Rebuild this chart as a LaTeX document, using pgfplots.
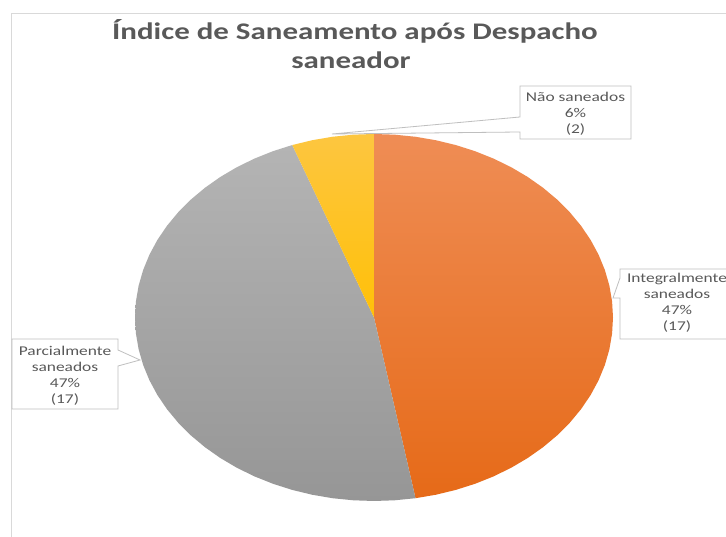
\documentclass[border=0pt]{standalone}
\usepackage{pgfplots}
\pgfplotsset{compat=1.18}
\usepackage{graphicx}
\usepackage{fontspec}
\setmainfont{Carlito}
\definecolor{txt}{RGB}{89,89,89}
\definecolor{frame}{RGB}{217,217,217}
\definecolor{callout}{RGB}{191,191,191}
\definecolor{orT}{RGB}{239,141,85}
\definecolor{orM}{RGB}{243,124,40}
\definecolor{orB}{RGB}{230,106,24}
\definecolor{grT}{RGB}{180,180,180}
\definecolor{grM}{RGB}{166,166,166}
\definecolor{grB}{RGB}{150,150,150}
\definecolor{yeT}{RGB}{253,198,64}
\definecolor{yeB}{RGB}{255,192,8}
% counts: Integralmente saneados 17, Parcialmente saneados 17, Nao saneados 2
% slices start at 90 deg and go clockwise; 17/36 -> 170 deg, 2/36 -> 20 deg
\newcommand{\lbl}[3]{\node[anchor=base,text=txt,inner sep=0pt] at (#1,#2) {\scalebox{1.3}[1]{\fontsize{13.4}{15}\selectfont #3}};}
\begin{document}
\begin{tikzpicture}
\clip (0,0) rectangle (726pt,537pt);
\fill[white] (0,0) rectangle (726pt,537pt);
\begin{axis}[
  at={(0,0)}, anchor=south west,
  width=726pt, height=537pt, scale only axis,
  xmin=-1.5649, xmax=1.4728, ymin=-1.1962, ymax=1.7302,
  hide axis, clip=false]
% Integralmente saneados (17)
\addplot[draw=none, data cs=polar, top color=orT, middle color=orM, bottom color=orB] coordinates {
(0,0) (90,1) (85,1) (80,1) (75,1) (70,1) (65,1) (60,1) (55,1) (50,1) (45,1) (40,1) (35,1) (30,1) (25,1) (20,1) (15,1) (10,1) (5,1) (0,1) (-5,1) (-10,1) (-15,1) (-20,1) (-25,1) (-30,1) (-35,1) (-40,1) (-45,1) (-50,1) (-55,1) (-60,1) (-65,1) (-70,1) (-75,1) (-80,1) (0,0)};
% Parcialmente saneados (17)
\addplot[draw=none, data cs=polar, top color=grT, middle color=grM, bottom color=grB] coordinates {
(0,0) (-80,1) (-85,1) (-90,1) (-95,1) (-100,1) (-105,1) (-110,1) (-115,1) (-120,1) (-125,1) (-130,1) (-135,1) (-140,1) (-145,1) (-150,1) (-155,1) (-160,1) (-165,1) (-170,1) (-175,1) (-180,1) (-185,1) (-190,1) (-195,1) (-200,1) (-205,1) (-210,1) (-215,1) (-220,1) (-225,1) (-230,1) (-235,1) (-240,1) (-245,1) (-250,1) (0,0)};
% Nao saneados (2)
\addplot[draw=none, data cs=polar, top color=yeT, bottom color=yeB] coordinates {
(0,0) (-250,1) (-255,1) (-260,1) (-265,1) (-270,1) (0,0)};
\end{axis}
\begin{scope}[x=1pt,y=-1pt,shift={(0pt,537pt)}]
% chart frame
\draw[frame, line width=1pt] (11,537) -- (11,14) -- (730,14);
% title
\node[anchor=base,text=txt,inner sep=0pt] at (355,40) {\scalebox{1.3}[1]{\fontsize{23.8}{28}\selectfont\bfseries Índice de Saneamento após Despacho}};
\node[anchor=base,text=txt,inner sep=0pt] at (351,69) {\scalebox{1.3}[1]{\fontsize{23.8}{28}\selectfont\bfseries saneador}};
% callouts
\draw[callout, fill=white, line width=0.8pt] (520,86) -- (631,86) -- (631,139) -- (520,139) -- (520,132) -- (332,134) -- (520,117) -- cycle;
\lbl{575.5}{102}{Não saneados}
\lbl{575.5}{118}{6\%}
\lbl{575.5}{134}{(2)}
\draw[callout, fill=white, line width=0.8pt] (620,278) -- (620,269) -- (760,269) -- (760,339) -- (620,339) -- (620,298) -- (613,298) -- cycle;
\lbl{677}{283}{Integralmente}
\lbl{677}{299}{saneados}
\lbl{677}{315}{47\%}
\lbl{677}{331}{(17)}
\draw[callout, fill=white, line width=0.8pt] (12,339) -- (118,339) -- (118,350) -- (140,360) -- (118,366) -- (118,409) -- (12,409) -- cycle;
\lbl{65}{356}{Parcialmente}
\lbl{65}{372}{saneados}
\lbl{65}{388}{47\%}
\lbl{65}{404}{(17)}
\end{scope}
\end{tikzpicture}
\end{document}
